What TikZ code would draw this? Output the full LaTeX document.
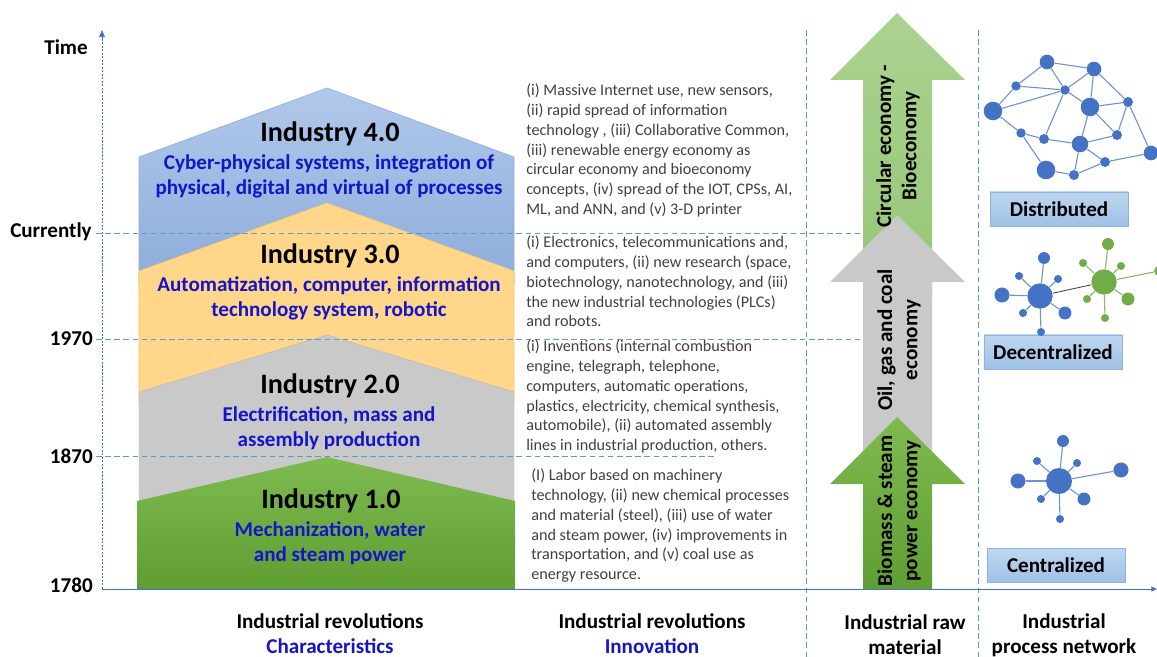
\documentclass[tikz,border=0pt]{standalone}
\usepackage{fontspec}
\setmainfont{Carlito}
\usepackage{xcolor}
\usetikzlibrary{arrows.meta,positioning,calc}
\definecolor{IRBlue}{HTML}{1414C8}
\definecolor{IRAxis}{HTML}{4472C4}
\definecolor{IRDash}{HTML}{5B9BD5}
\definecolor{IRText}{HTML}{404040}
\definecolor{IRSkyTop}{HTML}{B0C8EA}
\definecolor{IRSkyBot}{HTML}{8EACDB}
\definecolor{IRSkyLine}{HTML}{8FAADC}
\definecolor{IROrange}{HTML}{FFD68A}
\definecolor{IROrangeLine}{HTML}{FFC95A}
\definecolor{IRGray}{HTML}{C9C9C9}
\definecolor{IRGreenTop}{HTML}{7EBA50}
\definecolor{IRGreenBot}{HTML}{5F9E33}
\definecolor{IRLeafTop}{HTML}{ABD290}
\definecolor{IRLeafBot}{HTML}{95C675}
\definecolor{IRNode}{HTML}{4472C4}
\definecolor{IRLink}{HTML}{6F93D6}
\definecolor{IRGNode}{HTML}{70AD47}
\definecolor{IRGLink}{HTML}{85BD60}
\definecolor{IRBoxTop}{HTML}{BFD7F0}
\definecolor{IRBoxBot}{HTML}{9EC1E6}
\definecolor{IRBoxLine}{HTML}{8DB3E2}
\tikzset{
 irtitle/.style={font=\fontsize{20}{24}\selectfont\bfseries,inner sep=0pt},
 irsub/.style={font=\fontsize{15}{17.8}\selectfont\bfseries,text=IRBlue,align=center,inner sep=0pt},
 irnote/.style={font=\fontsize{11.5}{14.2}\selectfont,text=IRText,align=left,anchor=north west,inner sep=0pt},
 irlabel/.style={font=\fontsize{15}{17.8}\selectfont\bfseries,align=center,inner sep=0pt},
 iryear/.style={font=\fontsize{15}{18}\selectfont\bfseries,anchor=east,inner sep=0pt},
 irgrid/.style={draw=IRDash,dash pattern=on 4pt off 2.5pt,line width=0.6pt},
 irarrowtext/.style={font=\fontsize{15}{17.8}\selectfont\bfseries,align=center,rotate=90,inner sep=0pt},
 irbox/.style={draw=IRBoxLine,top color=IRBoxTop,bottom color=IRBoxBot,minimum width=3.45cm,minimum height=0.85cm,font=\fontsize{15}{18}\selectfont\bfseries,inner sep=0pt},
 netdot/.style={circle,fill=IRNode,inner sep=0pt,minimum size=#1},
 gnetdot/.style={circle,fill=IRGNode,inner sep=0pt,minimum size=#1},
 netlink/.style={draw=IRLink,line width=0.8pt},
 gnetlink/.style={draw=IRGLink,line width=0.8pt},
}
\begin{document}
\begin{tikzpicture}[x=0.025cm,y=-0.025cm,>=Latex]
\useasboundingbox (0,0) rectangle (1157,657);

\path[draw=IRSkyLine,line width=0.4pt,top color=IRSkyTop,bottom color=IRSkyBot] (139,285) -- (139,157) -- (327,88) -- (514,157) -- (514,285) -- cycle;
\path[draw=IROrangeLine,line width=0.4pt,fill=IROrange] (139,405) -- (139,271) -- (327,203) -- (514,271) -- (514,405) -- cycle;
\path[draw=IRGray!90!black,line width=0.3pt,fill=IRGray] (139,510) -- (139,392) -- (327,335) -- (514,392) -- (514,510) -- cycle;
\path[top color=IRGreenTop,bottom color=IRGreenBot] (137,589) -- (137,501) -- (327,457) -- (515,501) -- (515,589) -- cycle;

\node[irtitle] (i4) at (330,134) {Industry 4.0};
\node[irsub] (s4) at (329,176) {Cyber-physical systems, integration of\\physical, digital and virtual of processes};
\node[irtitle] (i3) at (330,256) {Industry 3.0};
\node[irsub] (s3) at (329,298) {Automatization, computer, information\\technology system, robotic};
\node[irtitle] (i2) at (330,386) {Industry 2.0};
\node[irsub] (s2) at (329,428) {Electrification, mass and\\assembly production};
\node[irtitle] (i1) at (331,501) {Industry 1.0};
\node[irsub] (s1) at (330,543) {Mechanization, water\\and steam power};

\node[iryear] (ytime) at (88,47) {Time};
\node[iryear] (ycur) at (92,232) {Currently};
\node[iryear] (y1970) at (93,339) {1970};
\node[iryear] (y1870) at (93,456) {1870};
\node[iryear] (y1780) at (93,585) {1780};

\coordinate (org) at (102,589);
\coordinate (ttop) at (102,30);
\coordinate (xend) at (1157,589);
\coordinate (gcur0) at (96,233);
\coordinate (gcur1) at (862,233);
\coordinate (g19700) at (96,339);
\coordinate (g19701) at (862,339);
\coordinate (g18700) at (96,456);
\coordinate (g18701) at (717,456);
\coordinate (sep1t) at (806,30);
\coordinate (sep1b) at (806,657);
\coordinate (sep2t) at (978,30);
\coordinate (sep2b) at (978,657);

\draw[irgrid] (gcur0) -- (gcur1);
\draw[irgrid] (g19700) -- (g19701);
\draw[irgrid] (g18700) -- (g18701);
\draw[irgrid] (sep1t) -- (sep1b);
\draw[irgrid] (sep2t) -- (sep2b);
\draw[IRAxis,line width=0.5pt,dash pattern=on 1.5pt off 1pt,-{Triangle[length=5pt,width=4pt]}] (org) -- (ttop);
\draw[IRAxis,line width=0.6pt,-{Triangle[length=4pt,width=3.5pt]}] (org) -- (xend);

\node[irnote] (n4) at (526,83) {(i) Massive Internet use, new sensors,\\(ii) rapid spread of information\\technology , (iii) Collaborative Common,\\(iii) renewable energy economy as\\circular economy and bioeconomy\\concepts, (iv) spread of the IOT, CPSs, AI,\\ML, and ANN, and (v) 3-D printer};
\node[irnote] (n3) at (526,235) {(i) Electronics, telecommunications and,\\and computers, (ii) new research (space,\\biotechnology, nanotechnology, and (iii)\\the new industrial technologies (PLCs)\\and robots.};
\node[irnote] (n2) at (526,339) {(i) Inventions (internal combustion\\engine, telegraph, telephone,\\computers, automatic operations,\\plastics, electricity, chemical synthesis,\\automobile), (ii) automated assembly\\lines in industrial production, others.};
\node[irnote] (n1) at (531,468) {(I) Labor based on machinery\\technology, (ii) new chemical processes\\and material (steel), (iii) use of water\\and steam power, (iv) improvements in\\transportation, and (v) coal use as\\energy resource.};

\path[top color=IRLeafTop,bottom color=IRLeafBot] (863,300) -- (863,80) -- (830,80) -- (897,13) -- (965,80) -- (932,80) -- (932,300) -- cycle;
\path[fill=IRGray] (863,460) -- (863,282) -- (830,282) -- (897,215) -- (965,282) -- (932,282) -- (932,460) -- cycle;
\path[top color=IRGreenTop,bottom color=IRGreenBot] (863,589) -- (863,484) -- (830,484) -- (897,417) -- (965,484) -- (932,484) -- (932,589) -- cycle;
\node[irarrowtext] (a3) at (898,146) {Circular economy -\\Bioeconomy};
\node[irarrowtext] (a2) at (899,340) {Oil, gas and coal\\economy};
\node[irarrowtext] (a1) at (899,511) {Biomass \& steam\\power economy};

\node[irlabel] (l1) at (330,634) {Industrial revolutions\\\textcolor{IRBlue}{Characteristics}};
\node[irlabel] (l2) at (652,634) {Industrial revolutions\\\textcolor{IRBlue}{Innovation}};
\node[irlabel] (l3) at (905,635) {Industrial raw\\material};
\node[irlabel] (l4) at (1064,635) {Industrial\\process network};

\node[irbox] (bdis) at (1059,209) {Distributed};
\node[irbox] (bdec) at (1053,352) {Decentralized};
\node[irbox] (bcen) at (1056,565) {Centralized};

\node[netdot=10.4pt] (da) at (1047,62) {};
\node[netdot=10.4pt] (db) at (1094,69) {};
\node[netdot=6.7pt] (dc) at (1016,86) {};
\node[netdot=6.7pt] (dd) at (1065,90) {};
\node[netdot=13.2pt] (de) at (993,111) {};
\node[netdot=13.2pt] (df) at (1090,107) {};
\node[netdot=7.1pt] (dg) at (1128,102) {};
\node[netdot=6.7pt] (dh) at (1021,133) {};
\node[netdot=7.1pt] (di) at (1044,139) {};
\node[netdot=11.8pt] (dj) at (1080,144) {};
\node[netdot=7.1pt] (dk) at (1117,135) {};
\node[netdot=10.4pt] (dl) at (1151,153) {};
\node[netdot=13.2pt] (dm) at (1046,170) {};
\node[netdot=7.1pt] (dn) at (1074,175) {};
\node[netdot=7.1pt] (do) at (1105,162) {};
\draw[netlink] (da) -- (dc);
\draw[netlink] (da) -- (db);
\draw[netlink] (da) -- (dd);
\draw[netlink] (db) -- (dd);
\draw[netlink] (db) -- (df);
\draw[netlink] (db) -- (dg);
\draw[netlink] (dc) -- (dd);
\draw[netlink] (dc) -- (de);
\draw[netlink] (de) -- (dd);
\draw[netlink] (de) -- (dh);
\draw[netlink] (dd) -- (df);
\draw[netlink] (dd) -- (di);
\draw[netlink] (df) -- (dg);
\draw[netlink] (df) -- (dk);
\draw[netlink] (df) -- (dj);
\draw[netlink] (dg) -- (dk);
\draw[netlink] (dg) -- (dl);
\draw[netlink] (dh) -- (di);
\draw[netlink] (dh) -- (dm);
\draw[netlink] (di) -- (dj);
\draw[netlink] (dj) -- (dk);
\draw[netlink] (dj) -- (do);
\draw[netlink] (dj) -- (dn);
\draw[netlink] (dn) -- (dm);
\draw[netlink] (dn) -- (do);
\draw[netlink] (do) -- (dl);

\node[netdot=18pt] (ehub) at (1040,296) {};
\node[netdot=8.5pt] (e1) at (1044,258) {};
\node[netdot=5.7pt] (e2) at (1019,276) {};
\node[netdot=5.7pt] (e3) at (1058,279) {};
\node[netdot=10.7pt] (e4) at (1002,295) {};
\node[netdot=5.7pt] (e5) at (1023,313) {};
\node[netdot=9.2pt] (e6) at (1065,313) {};
\node[netdot=5.7pt] (e7) at (1041,332) {};
\node[gnetdot=18pt] (ghub) at (1104,282) {};
\node[gnetdot=8.5pt] (g1) at (1108,244) {};
\node[gnetdot=5.7pt] (g2) at (1083,263) {};
\node[gnetdot=5.7pt] (g3) at (1121,266) {};
\node[gnetdot=5.7pt] (g4) at (1087,299) {};
\node[gnetdot=9.2pt] (g5) at (1128,299) {};
\node[gnetdot=5.7pt] (g6) at (1105,318) {};
\node[gnetdot=7pt] (g7) at (1159,271) {};
\draw[netlink] (ehub) -- (e1);
\draw[netlink] (ehub) -- (e2);
\draw[netlink] (ehub) -- (e3);
\draw[netlink] (ehub) -- (e4);
\draw[netlink] (ehub) -- (e5);
\draw[netlink] (ehub) -- (e6);
\draw[netlink] (ehub) -- (e7);
\draw[gnetlink] (ghub) -- (g1);
\draw[gnetlink] (ghub) -- (g2);
\draw[gnetlink] (ghub) -- (g3);
\draw[gnetlink] (ghub) -- (g4);
\draw[gnetlink] (ghub) -- (g5);
\draw[gnetlink] (ghub) -- (g6);
\draw[gnetlink] (ghub) -- (g7);
\draw[IRText,line width=0.6pt] (ehub) -- (ghub);

\node[netdot=18.5pt] (chub) at (1059,481) {};
\node[netdot=8.5pt] (k1) at (1063,441) {};
\node[netdot=5.7pt] (k2) at (1037,461) {};
\node[netdot=5.7pt] (k3) at (1077,463) {};
\node[netdot=10.7pt] (k4) at (1018,481) {};
\node[netdot=10.7pt] (k5) at (1121,470) {};
\node[netdot=5.7pt] (k6) at (1041,499) {};
\node[netdot=9.2pt] (k7) at (1084,499) {};
\node[netdot=5.7pt] (k8) at (1060,519) {};
\draw[netlink] (chub) -- (k1);
\draw[netlink] (chub) -- (k2);
\draw[netlink] (chub) -- (k3);
\draw[netlink] (chub) -- (k4);
\draw[netlink] (chub) -- (k5);
\draw[netlink] (chub) -- (k6);
\draw[netlink] (chub) -- (k7);
\draw[netlink] (chub) -- (k8);
\end{tikzpicture}
\end{document}
